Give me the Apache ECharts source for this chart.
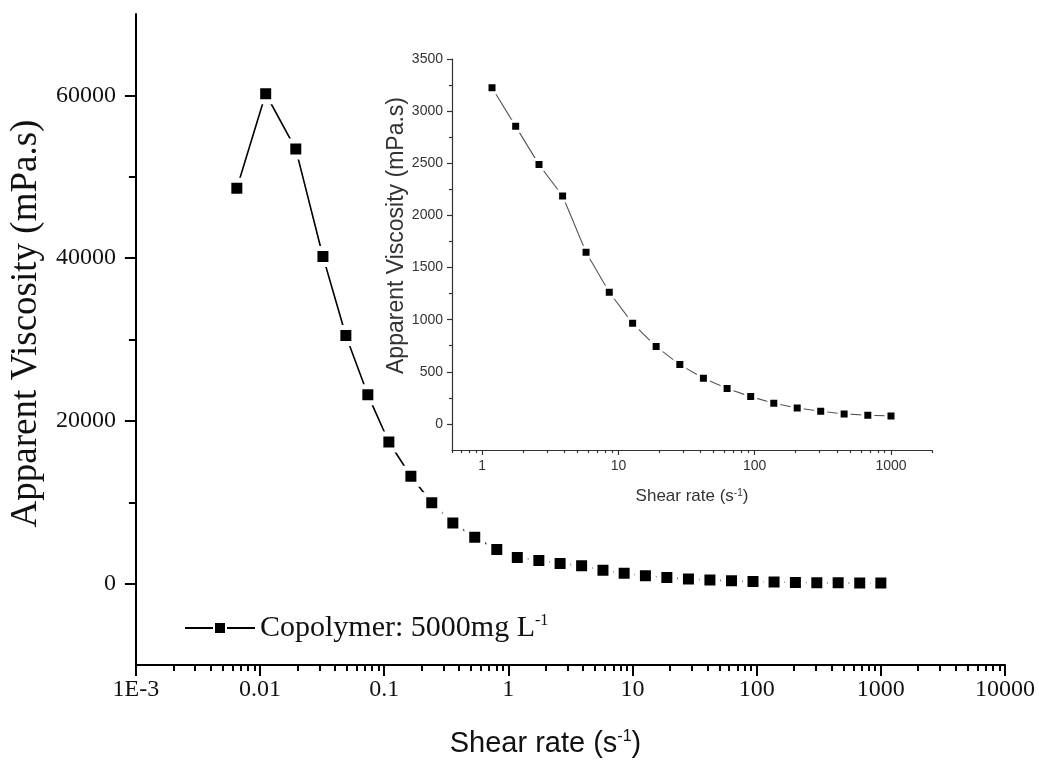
<!DOCTYPE html>
<html>
<head>
<meta charset="utf-8">
<script src="https://cdn.jsdelivr.net/npm/echarts@6/dist/echarts.min.js"></script>
<style>html,body{margin:0;padding:0;background:#fff}#c{width:1039px;height:765px}</style>
</head>
<body>
<div id="c"></div>
<script>
// ---- data ----
const mainShear = [0.0065, 0.0111, 0.0194, 0.0321, 0.0491, 0.0738, 0.109, 0.164, 0.2415, 0.357, 0.536, 0.807,
  1.18, 1.76, 2.61, 3.89, 5.78, 8.56, 12.7, 18.9, 28.2, 42, 62.7, 93.4, 138, 205, 305, 453, 676, 1000];
const mainVisc = [48600, 60200, 53400, 40200, 30500, 23200, 17400, 13200, 9950, 7450, 5700, 4200,
  3225, 2854, 2487, 2186, 1646, 1263, 965, 742, 569, 438, 339, 262, 198, 153, 121, 96, 83, 77];
const insetShear = [1.18, 1.76, 2.61, 3.89, 5.78, 8.56, 12.7, 18.9, 28.2, 42, 62.7, 93.4, 138, 205, 305, 453, 676, 1000];
const insetVisc = [3225, 2854, 2487, 2186, 1646, 1263, 965, 742, 569, 438, 339, 262, 198, 153, 121, 96, 83, 77];

const seriesName = 'Copolymer: 5000mg L';
const mainXTicks = [0.001, 0.01, 0.1, 1, 10, 100, 1000, 10000];
const mainYTicks = [0, 20000, 40000, 60000];
const mainYMinor = [10000, 30000, 50000];
const insetXTicks = [1, 10, 100, 1000];
const insetYTicks = [0, 500, 1000, 1500, 2000, 2500, 3000, 3500];
const insetYMinor = [250, 750, 1250, 1750, 2250, 2750, 3250];

// minor log ticks (2..9 within each decade)
function logMinor(fromExp, toExp, lo, hi) {
  const out = [];
  for (let e = fromExp; e <= toExp; e++) {
    for (let k = 2; k <= 9; k++) {
      const v = +(k * Math.pow(10, e)).toPrecision(6);
      if (v >= lo && v <= hi) out.push(v);
    }
  }
  return out;
}
const mainXMinor = logMinor(-3, 3, 0.001, 10000);
const insetXMinor = logMinor(-1, 3, 0.6, 2000);

const serif = '"Liberation Serif", "Times New Roman", serif';
const sans = '"Liberation Sans", Arial, sans-serif';

const chart = echarts.init(document.getElementById('c'), null, {renderer: 'canvas'});

const fmtMainX = v => (v === 0.001 ? '1E-3' : String(v));
const plain = v => String(v);

chart.setOption({
  animation: false,
  backgroundColor: '#fff',
  legend: {
    data: [seriesName],
    left: 179, top: 608,
    itemWidth: 70, itemHeight: 15, itemGap: 6,
    formatter: () => 'Copolymer: 5000mg L{sup|-1}',
    textStyle: {
      fontFamily: serif, fontSize: 30, color: '#111',
      rich: {sup: {fontFamily: serif, fontSize: 16, verticalAlign: 'top', color: '#111'}}
    }
  },
  grid: [
    {left: 135, right: 34, top: 14, bottom: 100},
    {left: 452, right: 107, top: 59, bottom: 315}
  ],
  xAxis: [
    { // main x
      type: 'log', gridIndex: 0, position: 'bottom', min: 0.001, max: 10000,
      name: 'Shear rate (s{sup|-1})', nameLocation: 'middle', nameGap: 64,
      nameTextStyle: {fontFamily: sans, fontSize: 29, color: '#111', padding: [0, 50, 0, 0],
        rich: {sup: {fontFamily: sans, fontSize: 16, verticalAlign: 'top', color: '#111'}}},
      axisLine: {onZero: false, lineStyle: {color: '#000', width: 2}},
      axisTick: {customValues: mainXTicks, length: 11, lineStyle: {color: '#000', width: 2}},
      axisLabel: {customValues: mainXTicks, formatter: fmtMainX, fontFamily: serif, fontSize: 24, color: '#111', margin: 13},
      splitLine: {show: false}
    },
    { // main x minor ticks
      type: 'log', gridIndex: 0, position: 'bottom', min: 0.001, max: 10000,
      axisLine: {show: false, onZero: false},
      axisTick: {customValues: mainXMinor, length: 6, lineStyle: {color: '#000', width: 2}},
      axisLabel: {show: false}, splitLine: {show: false}
    },
    { // inset x
      type: 'log', gridIndex: 1, position: 'bottom', min: 0.6, max: 2000,
      name: 'Shear rate (s{sup|-1})', nameLocation: 'middle', nameGap: 38,
      nameTextStyle: {fontFamily: sans, fontSize: 17, color: '#333',
        rich: {sup: {fontFamily: sans, fontSize: 10, verticalAlign: 'top', color: '#333'}}},
      axisLine: {onZero: false, lineStyle: {color: '#333', width: 1.2}},
      axisTick: {customValues: insetXTicks, length: 5, lineStyle: {color: '#333', width: 1.2}},
      axisLabel: {customValues: insetXTicks, formatter: plain, fontFamily: sans, fontSize: 14, color: '#333', margin: 9},
      splitLine: {show: false}
    },
    { // inset x minor
      type: 'log', gridIndex: 1, position: 'bottom', min: 0.6, max: 2000,
      axisLine: {show: false, onZero: false},
      axisTick: {customValues: insetXMinor, length: 3, lineStyle: {color: '#333', width: 1.2}},
      axisLabel: {show: false}, splitLine: {show: false}
    }
  ],
  yAxis: [
    { // main y
      type: 'value', gridIndex: 0, position: 'left', min: -10000, max: 70000,
      name: 'Apparent Viscosity (mPa.s)', nameLocation: 'middle', nameGap: 86, nameRotate: 90,
      nameTextStyle: {fontFamily: serif, fontSize: 37, color: '#111', padding: [0, 0, 0, 32]},
      axisLine: {onZero: false, lineStyle: {color: '#000', width: 2}},
      axisTick: {customValues: mainYTicks, length: 11, lineStyle: {color: '#000', width: 2}},
      axisLabel: {customValues: mainYTicks, formatter: plain, fontFamily: serif, fontSize: 24, color: '#111', margin: 20},
      splitLine: {show: false}
    },
    { // main y minor
      type: 'value', gridIndex: 0, position: 'left', min: -10000, max: 70000,
      axisLine: {show: false, onZero: false},
      axisTick: {customValues: mainYMinor, length: 7, lineStyle: {color: '#000', width: 2}},
      axisLabel: {show: false}, splitLine: {show: false}
    },
    { // inset y
      type: 'value', gridIndex: 1, position: 'left', min: -250, max: 3500,
      name: 'Apparent Viscosity (mPa.s)', nameLocation: 'middle', nameGap: 43, nameRotate: 90,
      nameTextStyle: {fontFamily: sans, fontSize: 23, color: '#333', padding: [0, 0, 0, 38]},
      axisLine: {onZero: false, lineStyle: {color: '#333', width: 1.2}},
      axisTick: {customValues: insetYTicks, length: 5, lineStyle: {color: '#333', width: 1.2}},
      axisLabel: {customValues: insetYTicks, formatter: plain, fontFamily: sans, fontSize: 14, color: '#333', margin: 9},
      splitLine: {show: false}
    },
    { // inset y minor
      type: 'value', gridIndex: 1, position: 'left', min: -250, max: 3500,
      axisLine: {show: false, onZero: false},
      axisTick: {customValues: insetYMinor, length: 3, lineStyle: {color: '#333', width: 1.2}},
      axisLabel: {show: false}, splitLine: {show: false}
    }
  ],
  series: [
    {
      name: seriesName, type: 'line', xAxisIndex: 0, yAxisIndex: 0,
      data: mainShear.map((x, i) => [x, mainVisc[i]]),
      symbol: 'rect', symbolSize: 16, showAllSymbol: true,
      lineStyle: {color: '#000', width: 1.6},
      itemStyle: {color: '#000', borderColor: '#fff', borderWidth: 5},
      emphasis: {disabled: true}, z: 3
    },
    {
      name: 'inset', type: 'line', xAxisIndex: 2, yAxisIndex: 2,
      data: insetShear.map((x, i) => [x, insetVisc[i]]),
      symbol: 'rect', symbolSize: 10, showAllSymbol: true,
      lineStyle: {color: '#555', width: 1.1},
      itemStyle: {color: '#000', borderColor: '#fff', borderWidth: 3},
      emphasis: {disabled: true}, z: 3
    }
  ]
});
</script>
</body>
</html>
